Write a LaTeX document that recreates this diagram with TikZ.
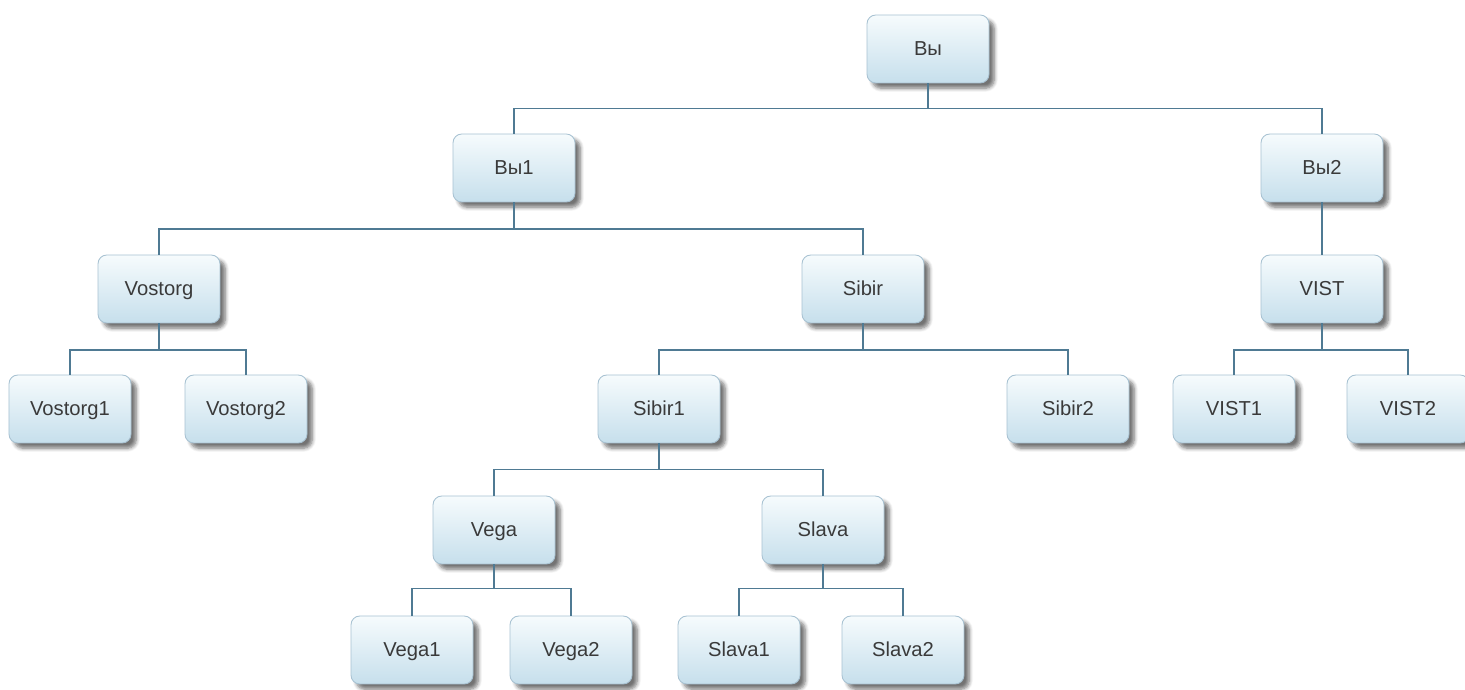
\documentclass[tikz,border=0pt]{standalone}
\usepackage{fontspec}
\setmainfont{Liberation Sans}
\usetikzlibrary{shadows,shadows.blur}
\definecolor{boxtop}{HTML}{F6FBFD}
\definecolor{boxbot}{HTML}{C6DFEC}
\definecolor{boxline}{HTML}{A8C2D2}
\definecolor{linkcol}{HTML}{4F7A93}
\definecolor{txtcol}{HTML}{3A3A3A}
\begin{document}
\begin{tikzpicture}[
  box/.style={draw=boxline, line width=0.5pt, rounded corners=5pt,
    top color=boxtop, bottom color=boxbot,
    blur shadow={shadow xshift=3pt, shadow yshift=-3pt, shadow blur steps=6, shadow opacity=55},
    minimum width=2.44cm, minimum height=1.36cm, inner xsep=0.42cm,
    text height=1.6ex, text depth=0.3ex,
    text=txtcol, font=\fontsize{11.5}{13}\selectfont},
  link/.style={draw=linkcol, line width=0.9pt}
]
\useasboundingbox (0,0) rectangle (29.3,13.8);

% top
\node[box] (vy) at (18.56,12.82) {Вы};
\node[box] (vy1) at (10.28,10.44) {Вы1};
\node[box] (vy2) at (26.44,10.44) {Вы2};

% second level
\node[box] (vost) at (3.18,8.02) {Vostorg};
\node[box] (sib) at (17.26,8.02) {Sibir};
\node[box] (vist) at (26.44,8.02) {VIST};

\node[box] (vost1) at (1.40,5.62) {Vostorg1};
\node[box] (vost2) at (4.92,5.62) {Vostorg2};
\node[box] (sib1) at (13.18,5.62) {Sibir1};
\node[box] (sib2) at (21.36,5.62) {Sibir2};
\node[box] (vist1) at (24.68,5.62) {VIST1};
\node[box] (vist2) at (28.16,5.62) {VIST2};

% lower levels
\node[box] (vega) at (9.88,3.20) {Vega};
\node[box] (slava) at (16.46,3.20) {Slava};

\node[box] (vega1) at (8.24,0.80) {Vega1};
\node[box] (vega2) at (11.42,0.80) {Vega2};
\node[box] (slava1) at (14.78,0.80) {Slava1};
\node[box] (slava2) at (18.06,0.80) {Slava2};

\path[link] (vy.south) -- ++(0,-0.5) -| (vy1.north);
\path[link] (vy.south) -- ++(0,-0.5) -| (vy2.north);
\path[link] (vy1.south) -- ++(0,-0.53) -| (vost.north);
\path[link] (vy1.south) -- ++(0,-0.53) -| (sib.north);
\path[link] (vy2.south) -- (vist.north);
\path[link] (vost.south) -- ++(0,-0.53) -| (vost1.north);
\path[link] (vost.south) -- ++(0,-0.53) -| (vost2.north);
\path[link] (sib.south) -- ++(0,-0.53) -| (sib1.north);
\path[link] (sib.south) -- ++(0,-0.53) -| (sib2.north);
\path[link] (vist.south) -- ++(0,-0.53) -| (vist1.north);
\path[link] (vist.south) -- ++(0,-0.53) -| (vist2.north);
\path[link] (sib1.south) -- ++(0,-0.52) -| (vega.north);
\path[link] (sib1.south) -- ++(0,-0.52) -| (slava.north);
\path[link] (vega.south) -- ++(0,-0.48) -| (vega1.north);
\path[link] (vega.south) -- ++(0,-0.48) -| (vega2.north);
\path[link] (slava.south) -- ++(0,-0.48) -| (slava1.north);
\path[link] (slava.south) -- ++(0,-0.48) -| (slava2.north);
\end{tikzpicture}
\end{document}
